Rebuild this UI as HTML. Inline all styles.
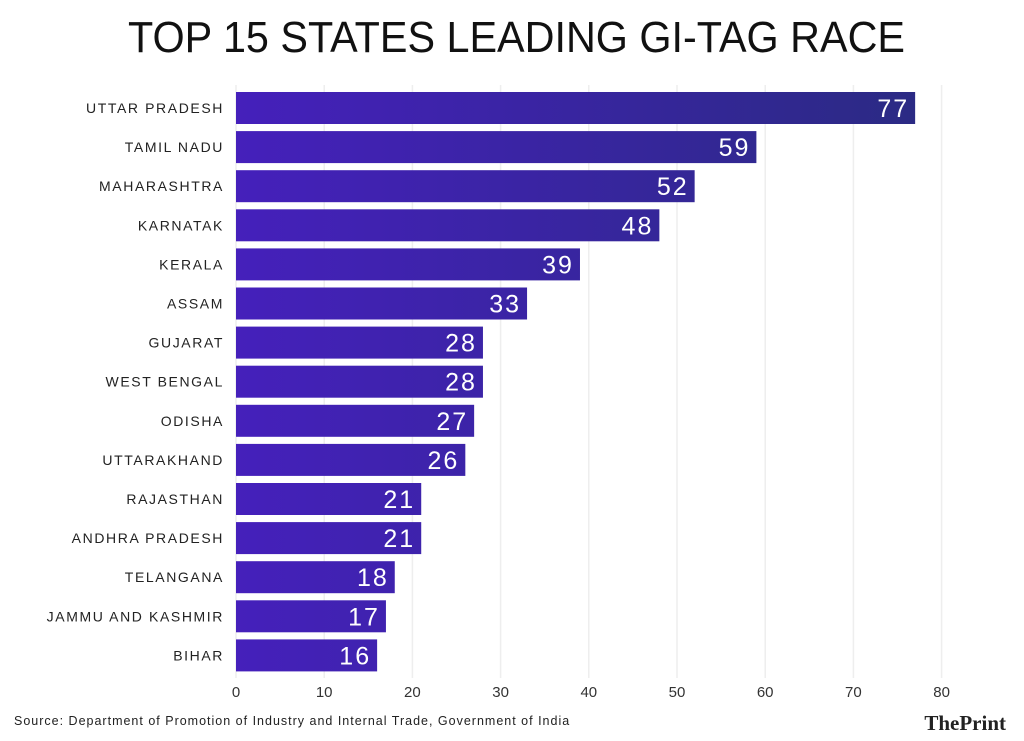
<!DOCTYPE html>
<html><head><meta charset="utf-8"><style>
body{margin:0;background:#fff;}
svg{display:block;font-family:"Liberation Sans",sans-serif;}
</style></head><body>
<svg id="c" width="1024" height="741" viewBox="0 0 1024 741">
<defs><linearGradient id="g" gradientUnits="userSpaceOnUse" x1="236" y1="0" x2="916" y2="0"><stop offset="0" stop-color="#4520bb"/><stop offset="1" stop-color="#2b2a84"/></linearGradient></defs>
<text x="128" y="52" textLength="777" lengthAdjust="spacingAndGlyphs" font-family="Liberation Sans Narrow, Liberation Sans, sans-serif" font-size="44" fill="#111">TOP 15 STATES LEADING GI-TAG RACE</text>
<g id="grid"></g><g id="bars"></g><g id="ticks"></g>
<text x="14" y="725" font-size="12.5" letter-spacing="1" fill="#222">Source: Department of Promotion of Industry and Internal Trade, Government of India</text>
<text x="1006" y="730" text-anchor="end" font-family="Liberation Serif,serif" font-size="21" font-weight="bold" fill="#222">ThePrint</text>
</svg>
<script>
const categories=["UTTAR PRADESH","TAMIL NADU","MAHARASHTRA","KARNATAK","KERALA","ASSAM","GUJARAT","WEST BENGAL","ODISHA","UTTARAKHAND","RAJASTHAN","ANDHRA PRADESH","TELANGANA","JAMMU AND KASHMIR","BIHAR"];
const values=[77,59,52,48,39,33,28,28,27,26,21,21,18,17,16];
const tickValues=[0,10,20,30,40,50,60,70,80];
const NS="http://www.w3.org/2000/svg";
const x=v=>236+v*8.82;
const y=i=>92+i*39.1;
const bh=32;
function mk(t,a,p){const e=document.createElementNS(NS,t);for(const k in a)e.setAttribute(k,a[k]);p.appendChild(e);return e;}
const grid=document.getElementById('grid'),bars=document.getElementById('bars'),ticks=document.getElementById('ticks');
tickValues.forEach(t=>{
 const l=mk('line',{x1:x(t),x2:x(t),y1:85,y2:678,stroke:'#eeeeee','stroke-width':1.5},grid);
 
 
 const tx=mk('text',{x:x(t),y:697,'text-anchor':'middle','font-size':15,fill:'#333'},ticks);
 tx.textContent=t;
 
 
});
categories.forEach((c,i)=>{
 const r=mk('rect',{x:x(0),y:y(i),width:x(values[i])-x(0),height:bh,fill:'url(#g)'},bars);
 
 
 const lb=mk('text',{x:224,y:y(i)+bh/2+5,'text-anchor':'end','font-size':14,'letter-spacing':1.6,fill:'#222'},bars);
 lb.textContent=c;
 
 
 const vl=mk('text',{x:x(values[i])-6,y:y(i)+bh/2+9,'text-anchor':'end','font-size':25,'letter-spacing':2,fill:'#fff'},bars);
 vl.textContent=values[i];
 
 
});
</script>
</body></html>
